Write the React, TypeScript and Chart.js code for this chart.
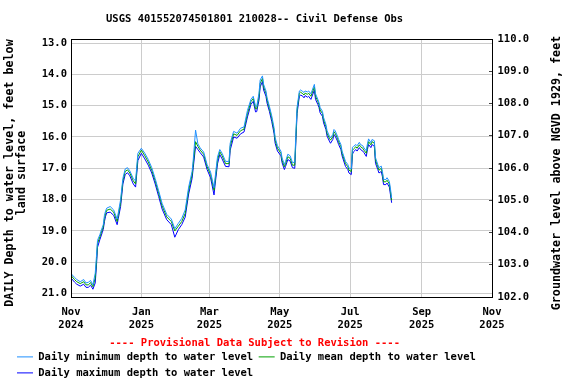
import { useEffect, useRef } from 'react';
import { Chart, registerables } from 'chart.js';

Chart.register(...registerables);

const TITLE = 'USGS 401552074501801 210028-- Civil Defense Obs';
const LEFT_TITLE = ['DAILY Depth to water level, feet below', 'land surface'];
const RIGHT_TITLE = 'Groundwater level above NGVD 1929, feet';
const NOTE = '---- Provisional Data Subject to Revision ----';
const SERIES_NAMES = [
  'Daily minimum depth to water level',
  'Daily mean depth to water level',
  'Daily maximum depth to water level',
];
const SERIES_COLORS = ['#1e90ff', '#00a000', '#0000ff'];

// x axis: days since 2024-11-01
const xTickDays = [0, 61, 120, 181, 242, 304, 365];
const xTickLabels = [
  ['Nov', '2024'],
  ['Jan', '2025'],
  ['Mar', '2025'],
  ['May', '2025'],
  ['Jul', '2025'],
  ['Sep', '2025'],
  ['Nov', '2025'],
];
const depthTicks = [13, 14, 15, 16, 17, 18, 19, 20, 21];
const elevTicks = [102, 103, 104, 105, 106, 107, 108, 109, 110];

const days = [
  0, 3, 5, 8, 11, 13, 15, 17, 19, 21,
  22, 23, 25, 27, 28, 29, 30, 31, 34, 37,
  40, 41, 43, 45, 47, 49, 51, 54, 56, 58,
  61, 64, 67, 70, 73, 76, 79, 83, 87, 90,
  93, 96, 99, 102, 105, 106, 108, 110, 112, 115,
  118, 121, 124, 125, 127, 129, 131, 134, 137, 138,
  141, 144, 147, 150, 153, 156, 158, 160, 161, 163,
  164, 166, 167, 169, 170, 172, 174, 176, 177, 179,
  182, 183, 185, 186, 188, 190, 192, 194, 195, 196,
  198, 199, 201, 202, 203, 205, 206, 208, 209, 211,
  212, 214, 215, 216, 218, 219, 221, 222, 224, 225,
  227, 228, 229, 231, 232, 234, 235, 237, 238, 240,
  241, 243, 244, 245, 247, 248, 250, 251, 253, 254,
  256, 257, 258, 260, 261, 263, 264, 266, 267, 269,
  270, 271, 273, 274, 276, 277, 278,
];

const meanDepth = [
  20.42, 20.55, 20.62, 20.68, 20.62, 20.72, 20.72, 20.65, 20.78, 20.5,
  20.0, 19.4, 19.19, 18.97, 18.87, 18.6, 18.44, 18.34, 18.3, 18.4,
  18.7, 18.5, 18.1, 17.4, 17.1, 17.05, 17.15, 17.4, 17.5, 16.63,
  16.42, 16.6, 16.8, 17.06, 17.4, 17.8, 18.2, 18.55, 18.7, 19.0,
  18.85, 18.7, 18.44, 17.7, 17.2, 16.85, 16.15, 16.3, 16.42, 16.55,
  16.95, 17.2, 17.7, 17.38, 16.74, 16.47, 16.6, 16.85, 16.85, 16.3,
  15.9, 15.95, 15.8, 15.75, 15.25, 14.87, 14.77, 15.1, 15.1, 14.71,
  14.29, 14.13, 14.4, 14.6, 14.82, 15.09, 15.4, 15.78, 16.1, 16.36,
  16.52, 16.74, 16.95, 16.85, 16.63, 16.68, 16.9, 16.9, 15.99, 15.14,
  14.6, 14.57, 14.62, 14.66, 14.6, 14.64, 14.6, 14.7, 14.6, 14.4,
  14.7, 14.87, 14.97, 15.14, 15.25, 15.46, 15.67, 15.88, 16.04, 16.1,
  15.99, 15.83, 15.88, 16.04, 16.15, 16.31, 16.52, 16.74, 16.85, 16.95,
  17.06, 17.1, 16.42, 16.38, 16.31, 16.36, 16.25, 16.31, 16.36, 16.42,
  16.52, 16.31, 16.15, 16.25, 16.15, 16.2, 16.74, 16.95, 17.06, 17.0,
  17.17, 17.43, 17.43, 17.38, 17.5, 17.75, 18.02,
];

const minDepth = [
  20.36, 20.48, 20.55, 20.62, 20.55, 20.66, 20.64, 20.58, 20.72, 20.35,
  19.85, 19.3, 19.12, 18.9, 18.8, 18.5, 18.36, 18.27, 18.22, 18.33,
  18.62, 18.42, 18.0, 17.32, 17.02, 16.98, 17.08, 17.33, 17.4, 16.52,
  16.36, 16.52, 16.72, 16.98, 17.33, 17.72, 18.12, 18.47, 18.62, 18.93,
  18.76, 18.6, 18.33, 17.6, 17.1, 16.72, 15.78, 16.22, 16.35, 16.48,
  16.88, 17.12, 17.62, 17.28, 16.64, 16.4, 16.52, 16.78, 16.78, 16.2,
  15.82, 15.88, 15.72, 15.68, 15.15, 14.8, 14.7, 15.02, 15.03, 14.6,
  14.18, 14.05, 14.32, 14.53, 14.75, 15.02, 15.32, 15.7, 16.02, 16.28,
  16.45, 16.67, 16.88, 16.78, 16.55, 16.6, 16.82, 16.8, 15.85, 15.05,
  14.53, 14.5, 14.55, 14.58, 14.53, 14.56, 14.53, 14.62, 14.52, 14.32,
  14.62, 14.8, 14.9, 15.06, 15.18, 15.38, 15.6, 15.8, 15.97, 16.03,
  15.92, 15.76, 15.8, 15.97, 16.08, 16.24, 16.45, 16.67, 16.78, 16.88,
  16.99, 17.02, 16.33, 16.3, 16.24, 16.28, 16.17, 16.24, 16.28, 16.35,
  16.44, 16.22, 16.06, 16.18, 16.08, 16.12, 16.66, 16.88, 16.98, 16.93,
  17.1, 17.35, 17.36, 17.3, 17.42, 17.66, 17.95,
];

const maxDepth = [
  20.5, 20.63, 20.7, 20.76, 20.7, 20.8, 20.8, 20.73, 20.86, 20.66,
  20.15, 19.52, 19.28, 19.06, 18.95, 18.7, 18.53, 18.42, 18.4, 18.5,
  18.8, 18.6, 18.22, 17.5, 17.2, 17.14, 17.24, 17.5, 17.6, 16.75,
  16.52, 16.7, 16.9, 17.15, 17.5, 17.9, 18.3, 18.64, 18.8, 19.2,
  18.96, 18.8, 18.56, 17.82, 17.32, 16.98, 16.3, 16.4, 16.5, 16.64,
  17.04, 17.3, 17.85, 17.5, 16.86, 16.56, 16.7, 16.94, 16.95, 16.42,
  16.0, 16.04, 15.9, 15.84, 15.36, 14.96, 14.86, 15.2, 15.19, 14.82,
  14.4, 14.23, 14.5, 14.7, 14.92, 15.18, 15.5, 15.88, 16.2, 16.45,
  16.6, 16.82, 17.04, 16.94, 16.72, 16.77, 16.98, 17.0, 16.12, 15.25,
  14.7, 14.66, 14.7, 14.75, 14.68, 14.73, 14.7, 14.8, 14.7, 14.5,
  14.8, 14.96, 15.06, 15.23, 15.34, 15.55, 15.76, 15.97, 16.13, 16.2,
  16.08, 15.92, 15.97, 16.13, 16.24, 16.4, 16.6, 16.83, 16.94, 17.04,
  17.15, 17.2, 16.55, 16.47, 16.4, 16.45, 16.34, 16.4, 16.45, 16.5,
  16.62, 16.4, 16.24, 16.34, 16.24, 16.3, 16.84, 17.04, 17.15, 17.1,
  17.27, 17.52, 17.52, 17.47, 17.6, 17.85, 18.1,
];

const FAMILY = '"DejaVu Sans Mono", monospace';
const font = { family: FAMILY, size: 10.5, weight: 'bold' as const };
const axisTitleSize = 11.7;

const framePlugin = {
  id: 'frameAndAxisTitles',
  afterDraw(chart: any) {
    const { ctx, chartArea } = chart;
    const { left, right, top, bottom } = chartArea;
    const midY = (top + bottom) / 2 + 5;
    ctx.save();
    ctx.strokeStyle = '#000';
    ctx.lineWidth = 1;
    ctx.strokeRect(Math.round(left) + 0.5, Math.round(top) + 0.5, Math.round(right - left), Math.round(bottom - top));
    ctx.fillStyle = '#000';
    ctx.font = `bold ${axisTitleSize}px ${FAMILY}`;
    ctx.textAlign = 'center';
    ctx.textBaseline = 'middle';
    // left axis title (two lines), reading bottom to top
    ctx.save();
    ctx.translate(10, midY);
    ctx.rotate(-Math.PI / 2);
    LEFT_TITLE.forEach((line, i) => ctx.fillText(line, 0, i * 12));
    ctx.restore();
    // right axis title, reading bottom to top
    ctx.translate(chart.width - 19, midY);
    ctx.rotate(-Math.PI / 2);
    ctx.fillText(RIGHT_TITLE, 0, 0);
    ctx.restore();
  },
};

export default function App() {
  const ref = useRef<HTMLCanvasElement | null>(null);
  useEffect(() => {
    document.body.style.margin = '0';
    const canvas = ref.current;
    if (!canvas) return;
    const series = [minDepth, meanDepth, maxDepth];
    const chart = new Chart(canvas, {
      type: 'line',
      data: {
        datasets: series.map((vals, k) => ({
          label: SERIES_NAMES[k],
          data: days.map((d, i) => ({ x: d, y: vals[i] })),
          borderColor: SERIES_COLORS[k],
          backgroundColor: SERIES_COLORS[k],
          borderWidth: 1,
          pointRadius: 0,
          fill: false,
          tension: 0,
          yAxisID: 'y',
        })),
      },
      options: {
        responsive: false,
        animation: false,
        events: [],
        layout: { padding: { left: 11.5, right: 78.3, top: 0, bottom: 0 } },
        plugins: {
          title: {
            display: true,
            text: TITLE,
            color: '#000',
            font,
            padding: { top: 12.7, bottom: 13.7 },
          },
          subtitle: {
            display: true,
            text: NOTE,
            position: 'bottom',
            weight: 500,
            color: '#ff0000',
            font: { ...font, lineHeight: 0.6 },
            padding: { top: 6.85, bottom: 0 },
          } as any,
          legend: {
            position: 'bottom',
            align: 'start',
            maxHeight: 37.85,
            labels: {
              color: '#000',
              font,
              usePointStyle: true,
              pointStyle: 'line',
              pointStyleWidth: 16,
              padding: 5.5,
            },
          } as any,
          tooltip: { enabled: false },
        },
        scales: {
          x: {
            type: 'linear',
            min: 0,
            max: 365,
            afterBuildTicks: (s: any) => {
              s.ticks = xTickDays.map((v) => ({ value: v }));
            },
            afterFit: (s: any) => {
              s.height = 36;
            },
            ticks: {
              autoSkip: false,
              maxRotation: 0,
              padding: 8.5,
              color: '#000',
              font: { ...font, lineHeight: 1.24 },
              callback: (_v: any, i: number) => xTickLabels[i],
            },
            grid: { color: '#cccccc', drawTicks: false },
            border: { display: false },
          },
          y: {
            type: 'linear',
            position: 'left',
            reverse: true,
            min: 12.872,
            max: 21.108,
            afterBuildTicks: (s: any) => {
              s.ticks = depthTicks.map((v) => ({ value: v }));
            },
            afterFit: (s: any) => {
              s.width = 59.5;
              s.paddingTop = 0;
              s.paddingBottom = 0;
            },
            ticks: {
              padding: 4,
              color: '#000',
              font,
              callback: (v: any) => Number(v).toFixed(1),
            },
            grid: { color: '#cccccc', drawTicks: false },
            border: { display: false },
          },
          y2: {
            type: 'linear',
            position: 'right',
            min: 102,
            max: 110,
            afterBuildTicks: (s: any) => {
              s.ticks = elevTicks.map((v) => ({ value: v }));
            },
            afterFit: (s: any) => {
              s.width = 5.7;
              s.paddingTop = 0;
              s.paddingBottom = 0;
            },
            ticks: {
              mirror: true,
              padding: 37.1,
              color: '#000',
              font,
              callback: (v: any) => Number(v).toFixed(1),
            },
            grid: { drawOnChartArea: false, drawTicks: true, tickLength: -3, color: '#444' },
            border: { display: false },
          },
        },
      },
      plugins: [framePlugin],
    });
    return () => chart.destroy();
  }, []);
  return <canvas ref={ref} width={576} height={384} style={{ display: 'block' }} />;
}
